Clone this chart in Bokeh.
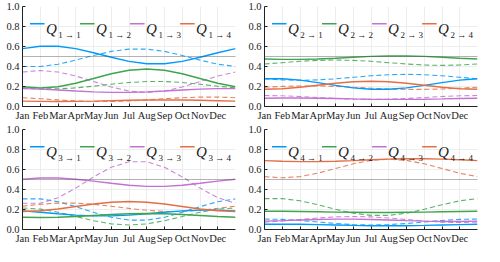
from bokeh.plotting import figure
from bokeh.layouts import gridplot
from bokeh.models import Span, Label, FixedTicker
from bokeh.embed import file_html
from bokeh.resources import INLINE

# ---- data ----
t = list(range(1, 14))  # Jan .. next Jan (periodic)
month_labels = ["Jan", "Feb", "Mar", "Apr", "May", "Jun",
                "Jul", "Aug", "Sep", "Oct", "Nov", "Dec"]
y_ticks = [0.0, 0.2, 0.4, 0.6, 0.8, 1.0]

# panel 1 (from state 1)
q11_solid = [0.579, 0.602, 0.602, 0.579, 0.538, 0.492, 0.451, 0.428, 0.428, 0.451, 0.492, 0.538, 0.579]
q11_dash = [0.400, 0.400, 0.423, 0.464, 0.510, 0.551, 0.574, 0.574, 0.551, 0.510, 0.464, 0.423, 0.400]
q12_solid = [0.198, 0.185, 0.198, 0.233, 0.280, 0.328, 0.362, 0.375, 0.362, 0.328, 0.280, 0.233, 0.198]
q12_dash = [0.186, 0.176, 0.176, 0.186, 0.203, 0.223, 0.240, 0.250, 0.250, 0.240, 0.223, 0.203, 0.186]
q13_solid = [0.179, 0.174, 0.165, 0.155, 0.146, 0.141, 0.141, 0.146, 0.155, 0.165, 0.174, 0.179, 0.179]
q13_dash = [0.345, 0.360, 0.345, 0.305, 0.250, 0.195, 0.155, 0.140, 0.155, 0.195, 0.250, 0.305, 0.345]
q14_solid = [0.054, 0.051, 0.050, 0.051, 0.054, 0.058, 0.062, 0.065, 0.066, 0.065, 0.062, 0.058, 0.054]
q14_dash = [0.088, 0.078, 0.066, 0.056, 0.050, 0.050, 0.056, 0.066, 0.078, 0.088, 0.094, 0.094, 0.088]

# panel 2
q21_solid = [0.278, 0.278, 0.264, 0.239, 0.211, 0.186, 0.172, 0.172, 0.186, 0.211, 0.239, 0.264, 0.278]
q21_dash = [0.277, 0.266, 0.262, 0.266, 0.277, 0.292, 0.307, 0.318, 0.322, 0.318, 0.307, 0.292, 0.277]
q22_solid = [0.475, 0.471, 0.471, 0.475, 0.483, 0.493, 0.501, 0.505, 0.505, 0.501, 0.493, 0.483, 0.475]
q22_dash = [0.425, 0.438, 0.452, 0.461, 0.465, 0.461, 0.452, 0.438, 0.425, 0.415, 0.411, 0.415, 0.425]
q23_solid = [0.083, 0.085, 0.085, 0.083, 0.080, 0.076, 0.073, 0.071, 0.071, 0.073, 0.076, 0.080, 0.083]
q23_dash = [0.110, 0.107, 0.100, 0.090, 0.080, 0.073, 0.070, 0.073, 0.080, 0.090, 0.100, 0.107, 0.110]
q24_solid = [0.173, 0.178, 0.193, 0.213, 0.233, 0.248, 0.253, 0.248, 0.233, 0.213, 0.193, 0.178, 0.173]
q24_dash = [0.193, 0.201, 0.205, 0.205, 0.201, 0.193, 0.183, 0.175, 0.171, 0.171, 0.175, 0.183, 0.193]

# panel 3
q31_solid = [0.186, 0.173, 0.157, 0.144, 0.136, 0.136, 0.144, 0.157, 0.173, 0.186, 0.194, 0.194, 0.186]
q31_dash = [0.306, 0.306, 0.278, 0.228, 0.172, 0.122, 0.094, 0.094, 0.122, 0.172, 0.228, 0.278, 0.306]
q32_solid = [0.123, 0.120, 0.123, 0.130, 0.140, 0.150, 0.157, 0.160, 0.157, 0.150, 0.140, 0.130, 0.123]
q32_dash = [0.215, 0.204, 0.173, 0.130, 0.088, 0.056, 0.045, 0.056, 0.088, 0.130, 0.173, 0.204, 0.215]
q33_solid = [0.503, 0.515, 0.515, 0.503, 0.484, 0.462, 0.443, 0.431, 0.431, 0.443, 0.462, 0.484, 0.503]
q33_dash = [0.262, 0.262, 0.318, 0.414, 0.526, 0.622, 0.678, 0.678, 0.622, 0.526, 0.414, 0.318, 0.262]
q34_solid = [0.180, 0.187, 0.205, 0.230, 0.255, 0.273, 0.280, 0.273, 0.255, 0.230, 0.205, 0.187, 0.180]
q34_dash = [0.233, 0.252, 0.264, 0.264, 0.252, 0.233, 0.211, 0.192, 0.180, 0.180, 0.192, 0.211, 0.233]

# panel 4
q41_solid = [0.052, 0.053, 0.052, 0.049, 0.045, 0.041, 0.038, 0.037, 0.038, 0.041, 0.045, 0.049, 0.052]
q41_dash = [0.105, 0.101, 0.090, 0.075, 0.060, 0.049, 0.045, 0.049, 0.060, 0.075, 0.090, 0.101, 0.105]
q42_solid = [0.182, 0.182, 0.180, 0.178, 0.174, 0.172, 0.170, 0.170, 0.172, 0.174, 0.178, 0.180, 0.182]
q42_dash = [0.309, 0.309, 0.287, 0.248, 0.202, 0.163, 0.141, 0.141, 0.163, 0.202, 0.248, 0.287, 0.309]
q43_solid = [0.084, 0.089, 0.095, 0.100, 0.104, 0.104, 0.100, 0.095, 0.089, 0.084, 0.080, 0.080, 0.084]
q43_dash = [0.074, 0.085, 0.100, 0.115, 0.126, 0.130, 0.126, 0.115, 0.100, 0.085, 0.074, 0.070, 0.074]
q44_solid = [0.689, 0.682, 0.679, 0.679, 0.682, 0.689, 0.697, 0.704, 0.707, 0.707, 0.704, 0.697, 0.689]
q44_dash = [0.529, 0.517, 0.529, 0.563, 0.610, 0.657, 0.691, 0.703, 0.691, 0.657, 0.610, 0.563, 0.529]

reference_level = 0.5

panels = [
    ("1", [q11_solid, q12_solid, q13_solid, q14_solid], [q11_dash, q12_dash, q13_dash, q14_dash]),
    ("2", [q21_solid, q22_solid, q23_solid, q24_solid], [q21_dash, q22_dash, q23_dash, q24_dash]),
    ("3", [q31_solid, q32_solid, q33_solid, q34_solid], [q31_dash, q32_dash, q33_dash, q34_dash]),
    ("4", [q41_solid, q42_solid, q43_solid, q44_solid], [q41_dash, q42_dash, q43_dash, q44_dash]),
]
targets = ["1", "2", "3", "4"]
colors = ["#009AFA", "#3EA44E", "#C371D2", "#E36F47"]

FONT = "Liberation Serif"


def make_panel(src, solids, dashes):
    p = figure(width=242, height=123, x_range=(1, 13), y_range=(0, 1),
               output_backend="svg", toolbar_location=None,
               min_border_left=22, min_border_right=7,
               min_border_top=6, min_border_bottom=14)
    p.outline_line_color = None
    p.background_fill_color = "white"
    p.border_fill_color = "white"

    for ax in (p.xaxis[0], p.yaxis[0]):
        ax.axis_line_color = "#222222"
        ax.axis_line_width = 1
        ax.major_tick_in = 3
        ax.major_tick_out = 0
        ax.major_tick_line_color = "#222222"
        ax.minor_tick_line_color = None
        ax.major_label_text_font = FONT
        ax.major_label_text_font_size = "10.5px"
        ax.major_label_text_color = "#222222"
        ax.major_label_standoff = 3

    p.xaxis.ticker = FixedTicker(ticks=list(range(1, 13)))
    p.xaxis.major_label_overrides = {i + 1: m for i, m in enumerate(month_labels)}
    p.yaxis.ticker = FixedTicker(ticks=y_ticks)
    p.yaxis.major_label_overrides = {v: f"{v:.1f}" for v in y_ticks}

    p.xgrid.grid_line_color = "#e8e8e8"
    p.ygrid.grid_line_color = "#e8e8e8"
    p.xgrid.grid_line_width = 0.8
    p.ygrid.grid_line_width = 0.8

    p.add_layout(Span(location=reference_level, dimension="width",
                      line_color="#555555", line_dash="1 1", line_width=0.9))

    for col, d in zip(colors, dashes):
        p.line(t, d, line_color=col, line_width=1.1, line_dash="5 3", line_alpha=0.85)
    for col, s in zip(colors, solids):
        p.line(t, s, line_color=col, line_width=1.4)

    # legend (manual, horizontal, month units of the x scale)
    leg_x0, leg_step, leg_len = 1.42, 2.82, 0.82
    leg_y = 0.827
    for k, (col, dst) in enumerate(zip(colors, targets)):
        x0 = leg_x0 + k * leg_step
        p.segment(x0=[x0], y0=[leg_y], x1=[x0 + leg_len], y1=[leg_y],
                  line_color=col, line_width=1.6)
        p.add_layout(Label(x=x0 + leg_len + 0.08, y=0.775, text="Q",
                           text_font=FONT, text_font_style="italic",
                           text_font_size="15px", text_color="#222222",
                           text_baseline="alphabetic", text_align="left"))
        p.add_layout(Label(x=x0 + leg_len + 0.78, y=0.72,
                           text=f"{src} \u2192 {dst}",
                           text_font=FONT, text_font_size="9px",
                           text_color="#222222",
                           text_baseline="alphabetic", text_align="left"))
    return p


figs = [make_panel(*pn) for pn in panels]
grid = gridplot([[figs[0], figs[1]], [figs[2], figs[3]]], toolbar_location=None)

open("out.html", "w").write(file_html(grid, INLINE))
